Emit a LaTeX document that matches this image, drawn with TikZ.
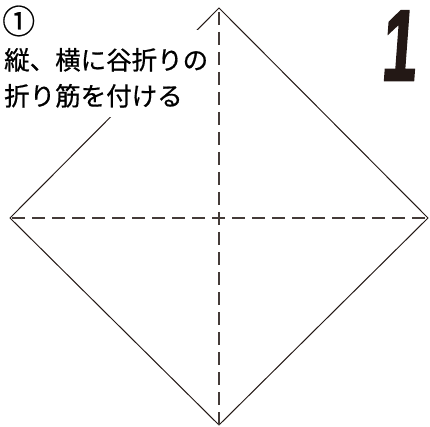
\documentclass[tikz,border=0pt]{standalone}
\usepackage{fontspec}
\newfontfamily\jpfont{Noto Sans CJK JP}[FakeBold=0.6]
\newfontfamily\numfont{Liberation Sans}[BoldFeatures={FakeBold=2.5}]
\definecolor{ink}{HTML}{231815}
\begin{document}
\begin{tikzpicture}[x=1pt,y=-1pt,
        edge/.style={ink, line width=1pt, line join=miter},
        crease/.style={ink!85, line width=1.5pt, dash pattern=on 13pt off 7pt},
        jptext/.style={font=\jpfont\fontsize{25.5}{36}\selectfont, anchor=base west, inner sep=0pt}]
        \useasboundingbox (0,0) rectangle (430,427);

        \coordinate (top) at (219,8);
        \coordinate (right) at (428,218);
        \coordinate (bottom) at (219,425);
        \coordinate (left) at (10,218);

        \draw [edge] (top) -- (right) -- (bottom) -- (left) -- cycle;

        \draw [crease, dash phase=16pt] (top) -- (bottom);
        \draw [crease, dash phase=18pt] (left) -- (right);

        \fill [white] (0,30) rectangle (214,117);

        \node [jptext, font=\jpfont\fontsize{33}{33}\selectfont] (num) at (2,33.5) {①};
        \node [jptext] (lineone) at (4,69.5) {縦、横に谷折りの};
        \node [jptext] (linetwo) at (4,105.5) {折り筋を付ける};

        \begin{scope}[shift={(398,80)}, xscale=0.62, xslant=0.12]
            \node [transform shape, ink, anchor=base, inner sep=0pt,
                font=\numfont\bfseries\fontsize{100}{100}\selectfont] (stepnum) at (0,0) {1};
        \end{scope}
    \end{tikzpicture}
\end{document}
